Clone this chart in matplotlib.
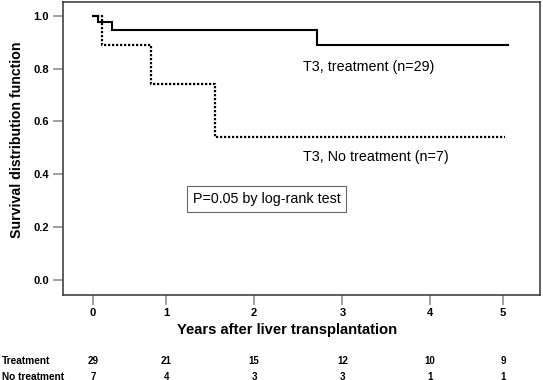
import numpy as np
import matplotlib
matplotlib.use("Agg")
import matplotlib.pyplot as plt
import matplotlib.transforms as mtransforms

# ---- data ----
treat_time = [0.0, 0.07, 0.26, 2.71, 5.07]
treat_surv = [1.0, 0.975, 0.945, 0.89, 0.89]
notreat_time = [0.0, 0.12, 0.785, 1.55, 5.03]
notreat_surv = [1.0, 0.89, 0.74, 0.54, 0.54]

xticks = [0, 1, 2, 3, 4, 5]
yticks = [0.0, 0.2, 0.4, 0.6, 0.8, 1.0]
risk_rows = ["Treatment", "No treatment"]
risk_treat = [29, 21, 15, 12, 10, 9]
risk_notreat = [7, 4, 3, 3, 1, 1]

label_treat = "T3, treatment (n=29)"
label_notreat = "T3, No treatment (n=7)"
pval_text = "P=0.05 by log-rank test"

# ---- x-axis scale (reference ticks are unevenly spaced) ----
knot_years = np.array([0, 1, 2, 3, 4, 5], float)
knot_pos = np.array([93, 166.5, 254, 342.5, 430, 503], float)
s_lo, s_hi = 73.5, 73.0

def fwd(x):
    x = np.asarray(x, float)
    y = np.interp(x, knot_years, knot_pos)
    y = np.where(x < 0, knot_pos[0] + x * s_lo, y)
    y = np.where(x > 5, knot_pos[-1] + (x - 5) * s_hi, y)
    return y

def inv(p):
    p = np.asarray(p, float)
    y = np.interp(p, knot_pos, knot_years)
    y = np.where(p < knot_pos[0], (p - knot_pos[0]) / s_lo, y)
    y = np.where(p > knot_pos[-1], 5 + (p - knot_pos[-1]) / s_hi, y)
    return y

plt.rcParams['font.family'] = ['Liberation Sans', 'DejaVu Sans']

W, H = 543, 380
fig = plt.figure(figsize=(W / 100, H / 100), dpi=100)
ax = fig.add_axes([63 / W, 1 - 294.6 / H, (540 - 63) / W, (294.6 - 2) / H])
ax.set_xscale('function', functions=(fwd, inv))

ax.step(treat_time, treat_surv, where='post', color='black', lw=1.5,
        solid_joinstyle='miter')
ax.step(notreat_time, notreat_surv, where='post', color='black', lw=1.6,
        linestyle=(0, (1, 0.8)), dash_capstyle='butt')

ax.set_xlim(-0.408, 5.507)
ax.set_ylim(-0.055, 1.052)
ax.set_xticks(xticks)
ax.set_xticklabels([str(t) for t in xticks])
ax.set_yticks(yticks)
ax.set_yticklabels([f"{v:.1f}" for v in yticks])
ax.xaxis.set_minor_locator(matplotlib.ticker.NullLocator())
ax.tick_params(axis='both', direction='out', length=7, width=1.1,
               color='#888888', labelsize=8)
ax.tick_params(axis='x', pad=3)
ax.tick_params(axis='y', pad=3)
for lab in ax.get_xticklabels() + ax.get_yticklabels():
    lab.set_fontweight('bold')
for sp in ax.spines.values():
    sp.set_linewidth(1.1)
    sp.set_color('#333333')

# annotations
ax.text(0.503, 0.778, label_treat, transform=ax.transAxes, fontsize=10.3,
        ha='left', va='center')
ax.text(0.503, 0.470, label_notreat, transform=ax.transAxes, fontsize=10.3,
        ha='left', va='center')
ax.text(0.427, 0.327, pval_text, transform=ax.transAxes, fontsize=10.3,
        ha='center', va='center',
        bbox=dict(boxstyle='square,pad=0.4', fc='white', ec='#666666', lw=0.8))

# axis labels
fig.text(17 / W, 1 - 140 / H, "Survival distribution function", rotation=90,
         fontsize=10.2, fontweight='bold', ha='center', va='center')
fig.text(287.5 / W, 1 - 330 / H, "Years after liver transplantation",
         fontsize=10.6, fontweight='bold', ha='center', va='center')

# number at risk table
trans = mtransforms.blended_transform_factory(ax.transData, fig.transFigure)
for row_label, vals, ypx in [(risk_rows[0], risk_treat, 361),
                             (risk_rows[1], risk_notreat, 376.5)]:
    fig.text(2 / W, 1 - ypx / H, row_label, fontsize=7.3, fontweight='bold',
             ha='left', va='center')
    for t, v in zip(xticks, vals):
        ax.text(t, 1 - ypx / H, str(v), transform=trans, fontsize=7,
                fontweight='bold', ha='center', va='center', clip_on=False)

fig.savefig("out.png", dpi=100)
